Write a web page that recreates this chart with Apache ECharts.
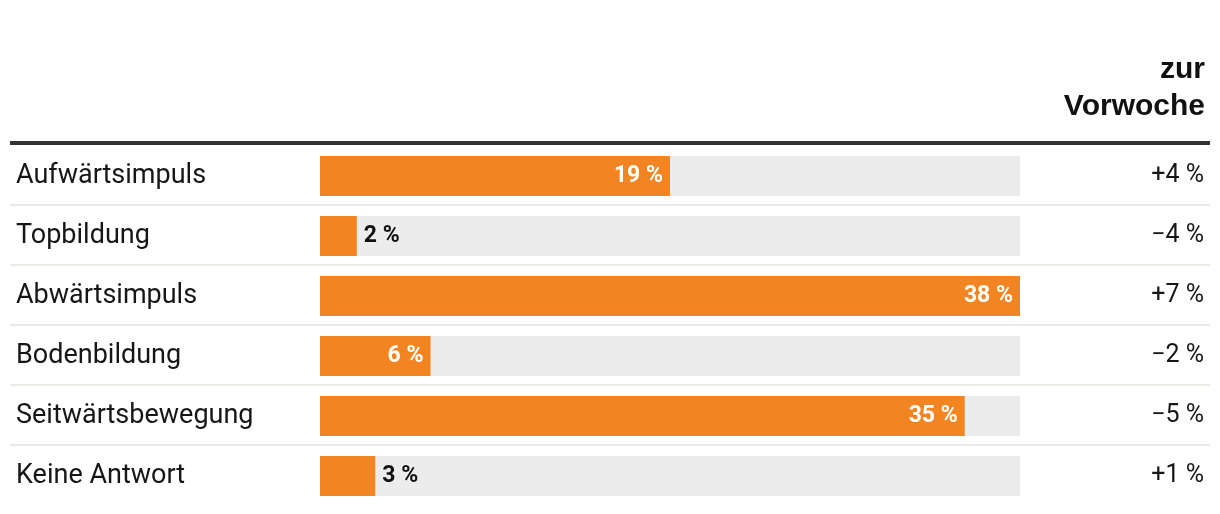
<!DOCTYPE html>
<html><head><meta charset="utf-8">
<script src="https://cdn.jsdelivr.net/npm/echarts@6/dist/echarts.min.js"></script>
<style>html,body{margin:0;padding:0;background:#fff}#c{width:1220px;height:514px}</style>
</head><body><div id="c"></div>
<script>
const categories = ['Aufwärtsimpuls','Topbildung','Abwärtsimpuls','Bodenbildung','Seitwärtsbewegung','Keine Antwort'];
const values = [19, 2, 38, 6, 35, 3];
const changes = ['+4 %','\u22124 %','+7 %','\u22122 %','\u22125 %','+1 %'];
const headerLines = ['zur', 'Vorwoche'];

const maxV = Math.max(...values);
const chart = echarts.init(document.getElementById('c'));
const TOP = 146, ROWH = 60;
const H = ROWH * categories.length;
const insideMin = 5;

chart.setOption({
  animation: false,
  textStyle: { fontFamily: 'Roboto' },
  grid: [
    { left: 320, width: 700, top: TOP, height: H },
    { left: 10, right: 10, top: TOP - 1, height: H }
  ],
  xAxis: [
    { gridIndex: 0, type: 'value', min: 0, max: maxV, show: false },
    { gridIndex: 1, type: 'value', show: false }
  ],
  yAxis: [
    { gridIndex: 0, type: 'category', data: categories, inverse: true,
      axisLine: { show: false }, axisTick: { show: false }, splitLine: { show: false },
      axisLabel: { align: 'left', margin: 304, fontSize: 27, color: '#161616', fontFamily: 'Roboto' } },
    { gridIndex: 0, type: 'category', data: changes, inverse: true, position: 'right', offset: 184,
      axisLine: { show: false }, axisTick: { show: false }, splitLine: { show: false },
      axisLabel: { align: 'right', margin: 0, fontSize: 25, color: '#161616', fontFamily: 'Roboto' } },
    { gridIndex: 1, type: 'category', data: categories, inverse: true,
      axisLine: { show: false }, axisTick: { show: false }, axisLabel: { show: false },
      splitLine: { show: true, showMinLine: false, showMaxLine: false, lineStyle: { color: '#ebebe6', width: 2 } } }
  ],
  graphic: [
    { type: 'rect', shape: { x: 10, y: TOP - 5, width: 1200, height: 4 }, style: { fill: '#333333' }, z: 10 },
    { type: 'text', right: 15, top: 55, style: { text: headerLines[0], font: 'bold 30px "Liberation Sans"', fill: '#111' } },
    { type: 'text', right: 15, top: 92, style: { text: headerLines[1], font: 'bold 30px "Liberation Sans"', fill: '#111' } }
  ],
  series: [
    { type: 'bar', xAxisIndex: 0, yAxisIndex: 0, data: values.map(() => maxV), barWidth: 40, barGap: '-100%',
      itemStyle: { color: '#ececec' }, silent: true },
    { type: 'bar', xAxisIndex: 0, yAxisIndex: 0, data: values.map(v => ({
        value: v,
        label: v >= insideMin
          ? { position: 'insideRight', color: '#fff', distance: 7 }
          : { position: 'right', color: '#111', distance: 7 }
      })),
      barWidth: 40, itemStyle: { color: '#f28522' },
      label: { show: true, formatter: p => p.value + ' %', fontSize: 23, fontWeight: 'bold', fontFamily: 'Roboto' } }
  ]
});
</script></body></html>
